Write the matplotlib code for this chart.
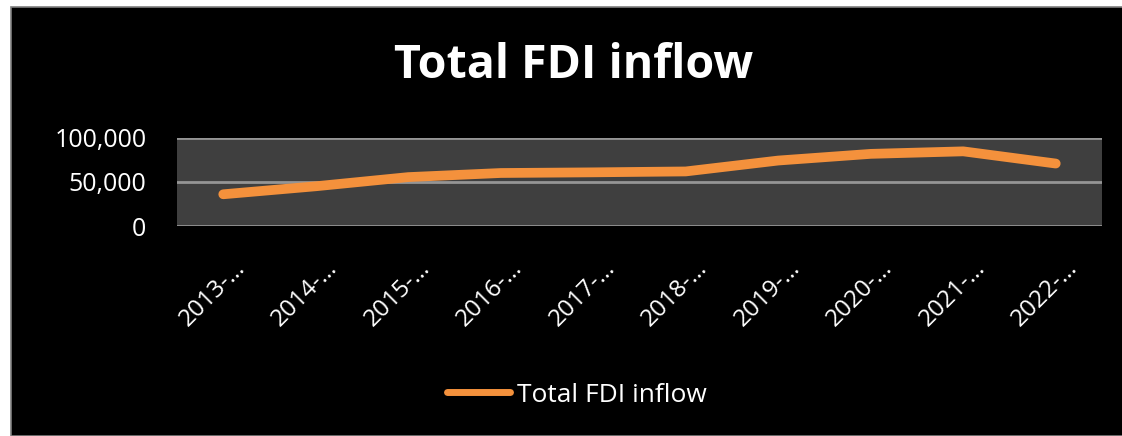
import matplotlib.pyplot as plt
import matplotlib.patches as mpatches
import matplotlib.transforms as mtransforms
from matplotlib.ticker import FuncFormatter

plt.rcParams['font.family'] = ['Open Sans', 'DejaVu Sans']

years = ['2013-…', '2014-…', '2015-…', '2016-…', '2017-…',
         '2018-…', '2019-…', '2020-…', '2021-…', '2022-…']
fdi = [36047, 45148, 55559, 60220, 60974, 62001, 74391, 81973, 84835, 70975]

W, H = 1122, 436
fig = plt.figure(figsize=(W / 100, H / 100), dpi=100)
fig.patch.set_facecolor('white')

# black chart background with thin grey top edge
bg = mpatches.Rectangle((11 / W, 0), 1, 1 - 7 / H, transform=fig.transFigure,
                        facecolor='black', edgecolor='#7f7f7f', linewidth=1.2, zorder=-10)
fig.patches.append(bg)

ax = fig.add_axes([177 / W, 1 - 226 / H, (1102 - 177) / W, (226 - 138) / H])
ax.set_facecolor('#3f3f3f')
x = range(len(years))
ax.plot(x, fdi, color='#f4913c', linewidth=7, solid_capstyle='round',
        solid_joinstyle='round', label='Total FDI inflow', zorder=3)

ax.set_xlim(-0.5, len(years) - 0.5)
ax.set_ylim(0, 100000)
ax.set_yticks([0, 50000, 100000])
ax.yaxis.set_major_formatter(FuncFormatter(lambda v, p: f'{int(v):,}'))
ax.grid(axis='y', color='#959595', linewidth=2)
ax.set_axisbelow(True)
for s in ax.spines.values():
    s.set_visible(False)
ax.tick_params(axis='y', length=0, pad=22, labelsize=18, colors='white')
ax.tick_params(axis='x', length=0, pad=0, colors='white')
ax.set_xticks(list(x))
ax.set_xticklabels(years, rotation=45, ha='right', va='top',
                   rotation_mode='anchor', fontsize=17.5, color='white')
shift = mtransforms.ScaledTranslation(0.1, -0.3, fig.dpi_scale_trans)
for lbl in ax.get_xticklabels():
    lbl.set_transform(lbl.get_transform() + shift)

fig.text(574 / W, 1 - 66 / H, 'Total FDI inflow', ha='center', va='center',
         fontsize=33.5, fontweight='bold', color='white')

leg = ax.legend(loc='center', bbox_to_anchor=(577 / W, 1 - 395 / H),
                bbox_transform=fig.transFigure, frameon=False, fontsize=19,
                handlelength=2.4, handletextpad=0.25, labelcolor='white')
leg.get_lines()[0].set_linewidth(5)

fig.savefig('out.png', dpi=100, facecolor=fig.get_facecolor())
